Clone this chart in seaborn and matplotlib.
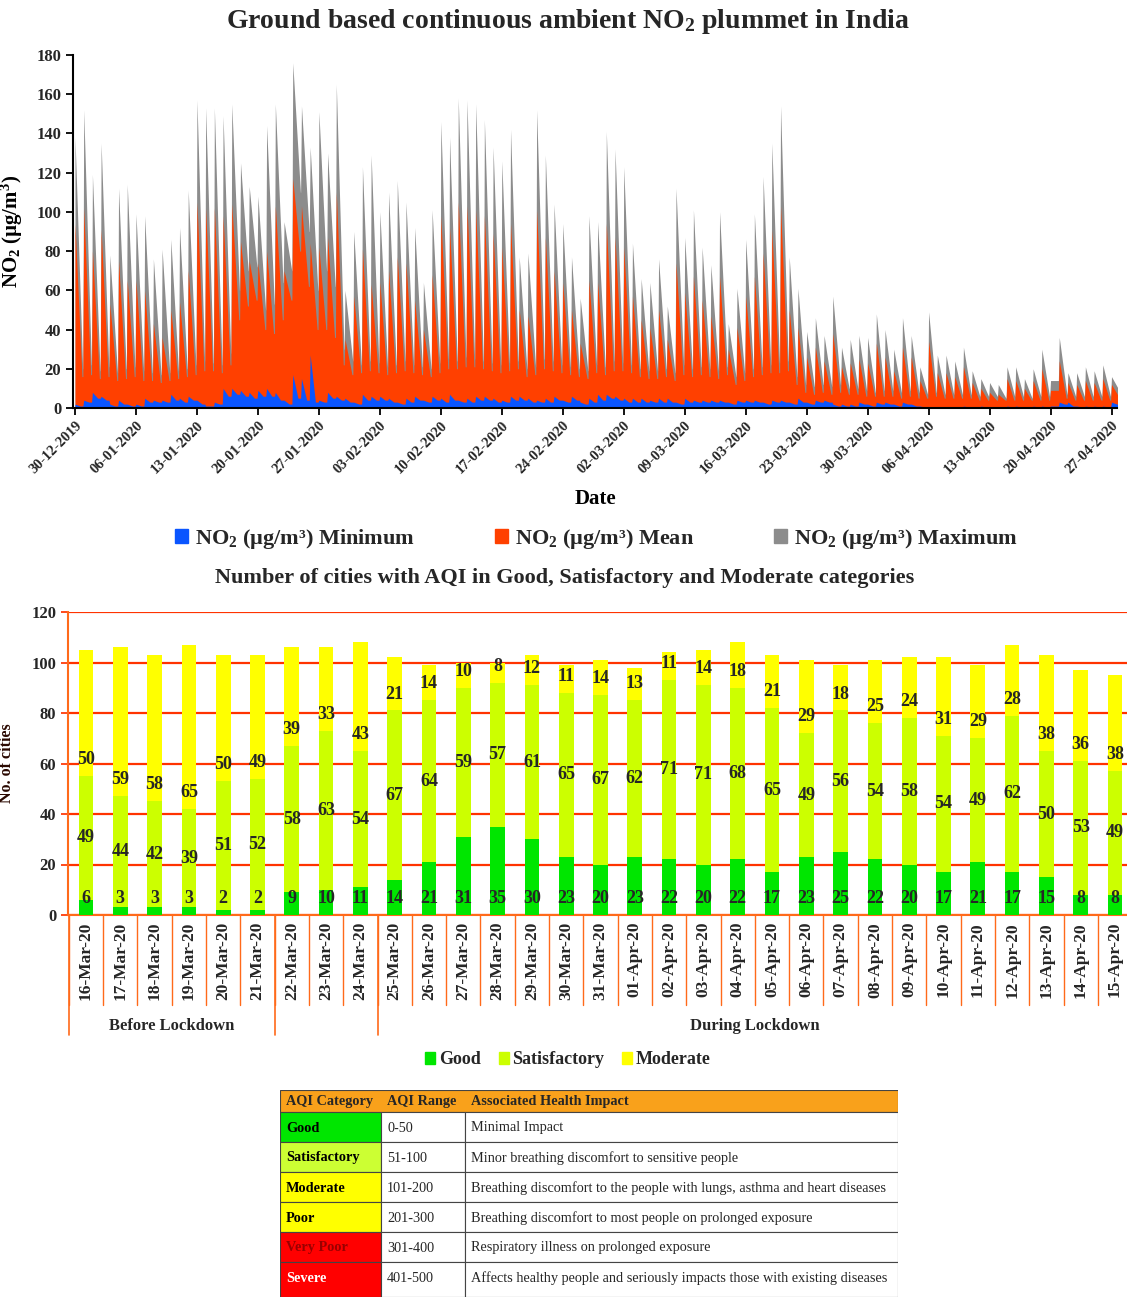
import numpy as np
import pandas as pd
import matplotlib
matplotlib.use("Agg")
import matplotlib.pyplot as plt
from matplotlib.patches import Patch, Rectangle
from matplotlib.transforms import blended_transform_factory
import seaborn as sns

# --- Data: daily NO2 (ug/m3), peak of each day and end-of-day trough ---
start_date = "2019-12-30"
max_peak = [138, 152, 119, 135, 78, 112, 114, 99, 98, 76,
            81, 86, 92, 111, 157, 153, 153, 149, 155, 125,
            113, 108, 144, 155, 95, 176, 154, 133, 151, 130,
            165, 60, 90, 123, 129, 100, 110, 116, 105, 92,
            64, 101, 146, 138, 158, 157, 155, 147, 133, 126,
            142, 77, 79, 152, 129, 104, 94, 77, 56, 98,
            95, 141, 132, 123, 84, 66, 64, 76, 52, 112,
            87, 101, 82, 73, 100, 43, 61, 86, 99, 118,
            135, 154, 77, 61, 39, 46, 37, 57, 31, 35,
            37, 36, 48, 40, 30, 46, 37, 21, 49, 27,
            27, 24, 31, 19, 15, 13, 12, 21, 21, 15,
            20, 30, 14, 36, 18, 18, 21, 19, 22, 16]
max_trough = [20, 22, 19, 21, 18, 20, 21, 19, 18, 17,
              18, 19, 20, 22, 24, 23, 22, 28, 60, 70,
              72, 50, 53, 64, 70, 110, 90, 60, 70, 62,
              30, 24, 22, 24, 23, 21, 22, 24, 22, 21,
              20, 23, 25, 24, 26, 25, 24, 23, 22, 23,
              24, 20, 21, 25, 24, 22, 21, 20, 19, 22,
              21, 24, 23, 22, 20, 19, 19, 20, 18, 22,
              20, 21, 20, 19, 21, 16, 18, 20, 21, 22,
              23, 24, 16, 12, 11, 12, 11, 12, 10, 10,
              9, 8, 9, 9, 8, 9, 8, 7, 8, 7,
              7, 7, 7, 6, 6, 6, 5, 6, 6, 5,
              6, 6, 14, 7, 6, 6, 6, 6, 6, 9]
mean_peak = [94, 102, 80, 91, 53, 75, 65, 65, 60, 43,
             36, 50, 54, 70, 105, 102, 102, 98, 104, 85,
             75, 74, 80, 103, 70, 117, 103, 84, 82, 87,
             110, 35, 57, 81, 63, 64, 70, 77, 74, 55,
             40, 68, 98, 92, 105, 103, 101, 98, 89, 82,
             94, 50, 47, 101, 87, 70, 64, 50, 33, 65,
             64, 94, 87, 82, 57, 45, 41, 50, 35, 74,
             59, 67, 55, 47, 67, 30, 41, 57, 67, 79,
             91, 103, 50, 41, 26, 31, 24, 38, 21, 23,
             25, 23, 33, 26, 19, 31, 26, 14, 34, 18,
             18, 16, 21, 13, 10, 8, 7, 15, 14, 10,
             14, 20, 9, 24, 13, 12, 14, 13, 15, 12]
mean_trough = [16, 17, 15, 16, 14, 15, 16, 14, 14, 13,
               14, 15, 16, 17, 19, 19, 18, 22, 45, 52,
               55, 40, 38, 45, 55, 80, 62, 40, 40, 36,
               22, 17, 18, 19, 18, 17, 18, 19, 18, 17,
               16, 18, 20, 20, 21, 21, 20, 19, 18, 19,
               20, 16, 17, 20, 19, 18, 17, 16, 15, 18,
               17, 19, 19, 18, 16, 15, 15, 16, 14, 17,
               16, 17, 16, 15, 17, 12, 14, 16, 17, 18,
               18, 19, 12, 8, 7, 8, 7, 8, 7, 7,
               6, 6, 6, 6, 5, 6, 5, 5, 6, 5,
               5, 5, 5, 4, 4, 4, 4, 4, 4, 4,
               4, 4, 9, 5, 4, 4, 4, 4, 4, 6]
min_peak = [2, 4, 8, 6, 2, 4, 2, 2, 5, 4,
            4, 7, 5, 6, 4, 1, 3, 10, 10, 9,
            8, 9, 10, 8, 4, 17, 15, 27, 4, 8,
            6, 5, 3, 7, 6, 6, 5, 3, 5, 6,
            4, 6, 5, 7, 4, 5, 6, 6, 5, 4,
            6, 6, 5, 4, 5, 6, 4, 6, 3, 5,
            7, 7, 6, 5, 5, 5, 4, 5, 5, 3,
            5, 4, 4, 4, 4, 3, 4, 4, 4, 3,
            4, 4, 3, 5, 3, 4, 4, 2, 2, 2,
            3, 2, 3, 3, 2, 3, 2, 1, 0.5, 0.5,
            0.5, 0.5, 1, 0.5, 1, 0.5, 0.5, 1, 1, 0.5,
            1, 1, 1, 3, 3, 1, 1, 1, 1, 3]
min_trough = [1, 3, 5, 4, 1, 2, 1, 1, 3, 3,
              3, 4, 3, 4, 2, 1, 2, 6, 7, 6,
              5, 6, 6, 4, 2, 5, 4, 3, 3, 5,
              4, 3, 2, 4, 4, 4, 3, 2, 3, 4,
              3, 4, 3, 4, 3, 3, 4, 4, 3, 3,
              4, 4, 3, 3, 3, 4, 3, 4, 2, 3,
              4, 5, 4, 3, 3, 3, 3, 3, 3, 2,
              3, 3, 3, 3, 3, 2, 3, 3, 3, 2,
              3, 3, 2, 3, 2, 3, 3, 1, 1, 1,
              2, 1, 2, 2, 1, 2, 1, 0.5, 0.3, 0.3,
              0.3, 0.3, 0.5, 0.3, 0.5, 0.3, 0.3, 0.5, 0.5, 0.3,
              0.5, 0.5, 1, 2, 1, 0.5, 0.5, 0.5, 0.5, 2]

# --- Data: number of cities per AQI category ---
aqi_dates = ["16-Mar-20", "17-Mar-20", "18-Mar-20", "19-Mar-20", "20-Mar-20", "21-Mar-20",
             "22-Mar-20", "23-Mar-20", "24-Mar-20", "25-Mar-20", "26-Mar-20", "27-Mar-20",
             "28-Mar-20", "29-Mar-20", "30-Mar-20", "31-Mar-20", "01-Apr-20", "02-Apr-20",
             "03-Apr-20", "04-Apr-20", "05-Apr-20", "06-Apr-20", "07-Apr-20", "08-Apr-20",
             "09-Apr-20", "10-Apr-20", "11-Apr-20", "12-Apr-20", "13-Apr-20", "14-Apr-20",
             "15-Apr-20"]
good = [6, 3, 3, 3, 2, 2, 9, 10, 11, 14, 21, 31, 35, 30, 23, 20, 23, 22, 20, 22,
        17, 23, 25, 22, 20, 17, 21, 17, 15, 8, 8]
satisfactory = [49, 44, 42, 39, 51, 52, 58, 63, 54, 67, 64, 59, 57, 61, 65, 67, 62, 71, 71, 68,
                65, 49, 56, 54, 58, 54, 49, 62, 50, 53, 49]
moderate = [50, 59, 58, 65, 50, 49, 39, 33, 43, 21, 14, 10, 8, 12, 11, 14, 13, 11, 14, 18,
            21, 29, 18, 25, 24, 31, 29, 28, 38, 36, 38]
periods = [("Before Lockdown", 6), ("", 3), ("During Lockdown", 22)]

# --- Data: AQI table ---
table_cols = ["AQI Category", "AQI Range", "Associated Health Impact"]
table_cats = ["Good", "Satisfactory", "Moderate", "Poor", "Very Poor", "Severe"]
table_ranges = ["0-50", "51-100", "101-200", "201-300", "301-400", "401-500"]
table_impacts = ["Minimal Impact",
                 "Minor breathing discomfort to sensitive people",
                 "Breathing discomfort to the people with lungs, asthma and heart diseases",
                 "Breathing discomfort to most people on prolonged exposure",
                 "Respiratory illness on prolonged exposure",
                 "Affects healthy people and seriously impacts those with existing diseases"]

# --- Style ---
BLUE, ORANGE, GRAY = "#0a55ff", "#ff4000", "#8c8c8c"
GREEN, LIME, YELLOW = "#00e600", "#ccff00", "#ffff00"
GRID_RED, AX_ORANGE = "#ff3300", "#ff6a1a"
cat_fill = ["#00e600", "#ccff33", "#ffff00", "#ffff00", "#ff0000", "#ff0000"]
cat_text = ["black", "black", "black", "black", "#990000", "white"]

sns.set_theme(style="white")
plt.rcParams["font.family"] = ["Liberation Serif", "DejaVu Serif"]
plt.rcParams["font.weight"] = "bold"
plt.rcParams["mathtext.fontset"] = "custom"
plt.rcParams["mathtext.rm"] = "Liberation Serif:bold"
plt.rcParams["mathtext.it"] = "Liberation Serif:italic:bold"
plt.rcParams["mathtext.bf"] = "Liberation Serif:bold"

W, H = 1127, 1297
fig = plt.figure(figsize=(W / 100, H / 100), dpi=100)


def fx(px):
    return px / W


def fy(py):
    return 1 - py / H


def sawtooth(peak, trough, drop):
    # one spike per day: peak at the day start, falling to the trough, flat until next day
    d = np.arange(len(peak))
    xs = np.column_stack([d, d + drop, d + 0.9]).ravel()
    ys = np.column_stack([peak, trough, trough]).ravel()
    return xs, ys


# ================= top: NO2 area chart =================
ax1 = fig.add_axes([fx(73), fy(408), fx(1117 - 73), (408 - 55) / H])
n_days = len(max_peak)
day = np.arange(n_days)
ax1.fill_between(*sawtooth(max_peak, max_trough, 0.88), color=GRAY, lw=0)
ax1.fill_between(*sawtooth(mean_peak, mean_trough, 0.8), color=ORANGE, lw=0)
ax1.fill_between(*sawtooth(min_peak, min_trough, 0.6), color=BLUE, lw=0)

dates = pd.date_range(start_date, periods=n_days)
ax1.set_xticks(day[::7])
ax1.set_xticklabels(dates[::7].strftime("%d-%m-%Y"), rotation=45, ha="right",
                    rotation_mode="anchor", fontsize=10.5, fontweight="bold")
ax1.set_xlim(-0.23, 119.63)
ax1.set_ylim(0, 180)
ax1.set_yticks(range(0, 181, 20))
ax1.tick_params(axis="both", direction="out", length=5, width=1.3, color="black",
                bottom=True, left=True)
ax1.tick_params(axis="y", labelsize=12)
ax1.tick_params(axis="x", pad=3)
for lbl in ax1.get_yticklabels():
    lbl.set_fontweight("bold")
for s in ["top", "right"]:
    ax1.spines[s].set_visible(False)
for s in ["left", "bottom"]:
    ax1.spines[s].set_color("black")
    ax1.spines[s].set_linewidth(1.5)
ax1.set_ylabel(r"NO$_2$ (µg/m$^3$)", fontsize=15, fontweight="bold", color="black")
ax1.yaxis.set_label_coords(-0.046, 0.5)
ax1.set_xlabel("Date", fontsize=15, fontweight="bold", color="black")
ax1.xaxis.set_label_coords(0.5, -0.23)

fig.text(fx(568), fy(22), r"Ground based continuous ambient NO$_2$ plummet in India",
         ha="center", va="center", fontsize=20, fontweight="bold")

top_handles = [Patch(color=BLUE, label=r"NO$_2$ (µg/m³) Minimum"),
               Patch(color=ORANGE, label=r"NO$_2$ (µg/m³) Mean"),
               Patch(color=GRAY, label=r"NO$_2$ (µg/m³) Maximum")]
fig.legend(handles=top_handles, loc="center", bbox_to_anchor=(fx(596), fy(539)), ncol=3,
           frameon=False, handlelength=0.6, handleheight=0.6, handletextpad=0.3,
           columnspacing=3.6, prop=dict(size=16, weight="bold"))

# ================= middle: stacked AQI bars =================
ax2 = fig.add_axes([fx(68), fy(915), fx(1127 - 68), (915 - 612) / H])
df = pd.DataFrame({"date": aqi_dates, "good": good, "sat": satisfactory, "mod": moderate})
df["good_sat"] = df["good"] + df["sat"]
df["total"] = df["good_sat"] + df["mod"]
for col, c in [("total", YELLOW), ("good_sat", LIME), ("good", GREEN)]:
    sns.barplot(data=df, x="date", y=col, order=aqi_dates, color=c, width=0.43,
                saturation=1, errorbar=None, ax=ax2, zorder=3, linewidth=0)

for i, row in df.iterrows():
    kw = dict(ha="center", va="center", fontsize=13, fontweight="bold", zorder=5)
    ax2.text(i, 6.5, str(row["good"]), **kw)
    ax2.text(i, row["good"] + row["sat"] / 2, str(row["sat"]), **kw)
    ax2.text(i, row["good_sat"] + 6.5, str(row["mod"]), **kw)

ax2.set_ylim(0, 120)
ax2.set_yticks(range(0, 121, 20))
ax2.set_xlim(-0.525, 30.35)
ax2.yaxis.grid(True, color=GRID_RED, lw=1.6, zorder=0)
ax2.set_axisbelow(True)
for s in ["top", "right"]:
    ax2.spines[s].set_visible(False)
for s in ["left", "bottom"]:
    ax2.spines[s].set_color(AX_ORANGE)
    ax2.spines[s].set_linewidth(1.5)
ax2.tick_params(axis="y", left=True, length=5, color=GRID_RED, labelsize=12)
ax2.tick_params(axis="x", bottom=False, length=0, pad=5, labelsize=12.5)
ax2.set_xticks(range(len(aqi_dates)))
ax2.set_xticklabels(aqi_dates, rotation=90, fontweight="bold")
for lbl in ax2.get_yticklabels():
    lbl.set_fontweight("bold")
ax2.set_xlabel("")
ax2.set_ylabel("No. of cities", fontsize=11.5, fontweight="bold", color="#2a0800")
ax2.yaxis.set_label_coords(-0.05, 0.5)

trans = blended_transform_factory(ax2.transData, ax2.transAxes)
for b in np.arange(-0.5, len(aqi_dates), 1.0):
    ax2.plot([b, b], [0, -0.297], transform=trans, clip_on=False, color=AX_ORANGE, lw=1)
edge = -0.5
ax2.plot([edge, edge], [0, -0.396], transform=trans, clip_on=False, color=AX_ORANGE, lw=1.2)
for name, n in periods:
    ax2.plot([edge + n, edge + n], [0, -0.396], transform=trans, clip_on=False,
             color=AX_ORANGE, lw=1.2)
    if name:
        ax2.text(edge + n / 2, -0.365, name, transform=trans, ha="center", va="center",
                 fontsize=12, fontweight="bold")
    edge += n

fig.text(fx(565), fy(578), "Number of cities with AQI in Good, Satisfactory and Moderate categories",
         ha="center", va="center", fontsize=16, fontweight="bold")

bar_handles = [Patch(color=GREEN, label="Good"), Patch(color=LIME, label="Satisfactory"),
               Patch(color=YELLOW, label="Moderate")]
fig.legend(handles=bar_handles, loc="center", bbox_to_anchor=(fx(568), fy(1060)), ncol=3,
           frameon=False, handlelength=0.55, handleheight=0.6, handletextpad=0.2,
           columnspacing=1.0, prop=dict(size=13, weight="bold"))

# ================= bottom: AQI table =================
axt = fig.add_axes([fx(280), 0, fx(898 - 280), (1297 - 1090) / H])
axt.set_xlim(0, 618)
axt.set_ylim(207, 0)
axt.axis("off")
col_x = [0, 101, 185, 618]
row_y = [0, 22, 52, 82, 112, 142, 172, 207]
edge_kw = dict(edgecolor="#444444", lw=0.8)
axt.add_patch(Rectangle((0, 0), 618, row_y[1], facecolor="#f9a11b", **edge_kw))
for j, name in enumerate(table_cols):
    axt.text(col_x[j] + 6, row_y[1] / 2, name, ha="left", va="center", fontsize=10.3,
             fontweight="bold")
for i, cat in enumerate(table_cats):
    y0, y1 = row_y[i + 1], row_y[i + 2]
    axt.add_patch(Rectangle((0, y0), col_x[1], y1 - y0, facecolor=cat_fill[i], **edge_kw))
    axt.add_patch(Rectangle((col_x[1], y0), col_x[2] - col_x[1], y1 - y0, facecolor="white", **edge_kw))
    axt.add_patch(Rectangle((col_x[2], y0), col_x[3] - col_x[2], y1 - y0, facecolor="white", **edge_kw))
    axt.text(col_x[0] + 6, y0 + 16, cat, ha="left", va="center", fontsize=10.3,
             fontweight="bold", color=cat_text[i])
    axt.text(col_x[1] + 6, y0 + 16, table_ranges[i], ha="left", va="center", fontsize=10.3,
             fontweight="normal")
    axt.text(col_x[2] + 6, y0 + 16, table_impacts[i], ha="left", va="center", fontsize=10.3,
             fontweight="normal")

fig.savefig("out.png", dpi=100, facecolor="white")
